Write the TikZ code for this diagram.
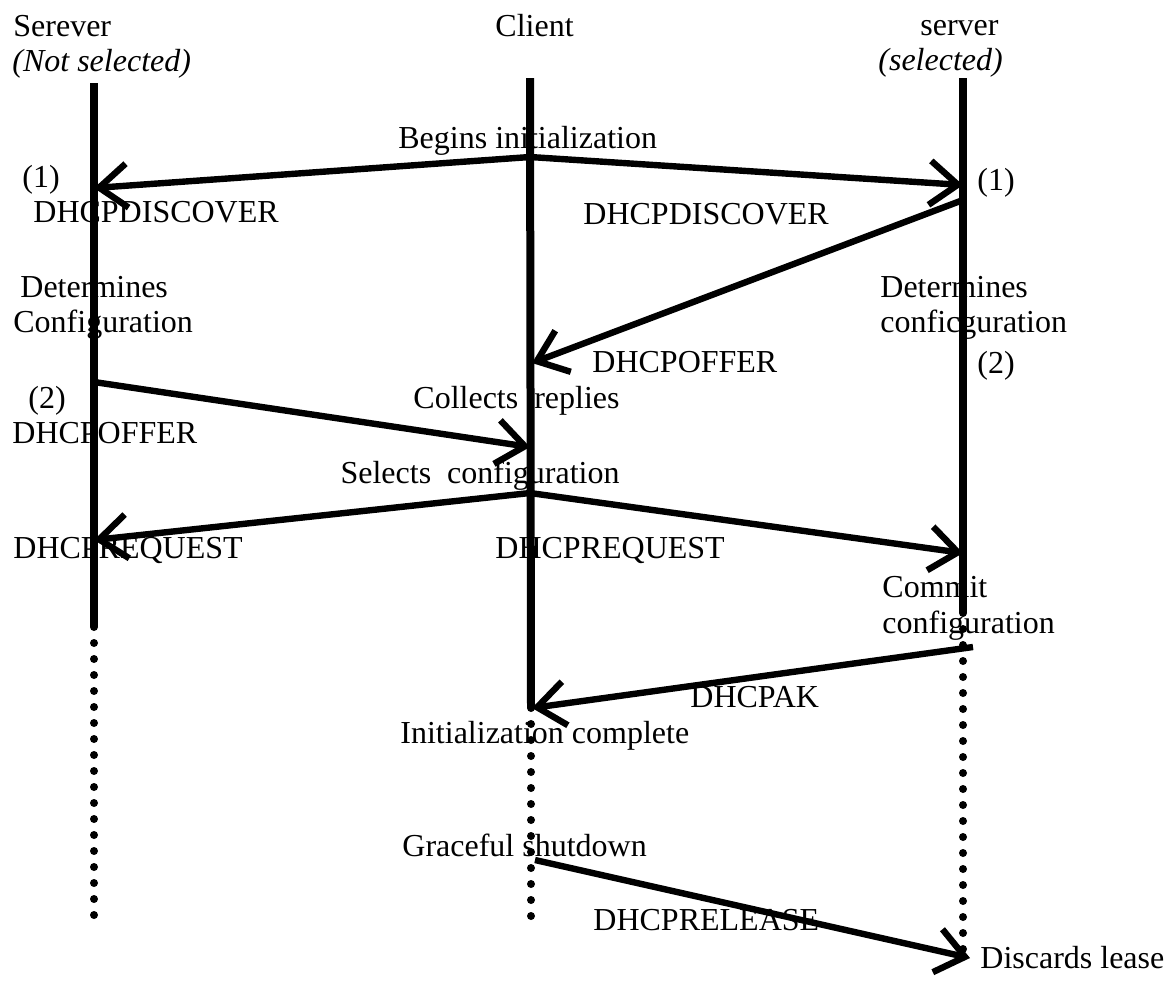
\documentclass[tikz,border=0pt]{standalone}
\usepackage{fontspec}
\setmainfont{Liberation Serif}
\usetikzlibrary{arrows.meta}

\begin{document}
\begin{tikzpicture}[
    x=0.5pt, y=-0.5pt,
    every node/.style={inner sep=0pt, font=\fontsize{16}{19}\selectfont}
]

\tikzset{
  life/.style={line width=4pt},
  idle/.style={line width=4pt, line cap=round, dash pattern=on 0pt off 8pt},
  msg/.style={line width=3.2pt, -{Straight Barb[length=14pt,width=22pt]}},
  txt/.style={anchor=base west}
}

\useasboundingbox (0,0) rectangle (1172,981);

% ================= lifelines =================

\coordinate (sTop) at (94,83);
\coordinate (sEnd) at (94,627);
\coordinate (sDot) at (94,915);

\coordinate (cTop) at (530,78);
\coordinate (cEnd) at (531,708);
\coordinate (cDot) at (531,916);

\coordinate (rTop) at (963,78);
\coordinate (rEnd) at (963,613);
\coordinate (rDot) at (963,963);

\draw[life] (sTop) -- (sEnd);
\draw[idle] (sEnd) -- (sDot);
\draw[life] (cTop) -- (cEnd);
\draw[idle] (cEnd) -- (cDot);
\draw[life] (rTop) -- (rEnd);
\draw[idle] (rEnd) -- (rDot);

\node[txt] (sName) at (13,36) {Serever};
\node[txt] (sNote) at (12,71) {\itshape(Not selected)};
\node[txt] (cName) at (495,36) {Client};
\node[txt] (rName) at (920,35) {server};
\node[txt] (rNote) at (878,70) {\itshape(selected)};

% ================= messages =================

\coordinate (cInit) at (530,157);
\coordinate (sDisc) at (94,188);
\coordinate (rDisc) at (963,185);
\coordinate (rOffer) at (963,200);
\coordinate (cOffer) at (532,363);
\coordinate (sOffer) at (94,382);
\coordinate (cReply) at (530,447);
\coordinate (cSel) at (530,493);
\coordinate (sReq) at (94,540);
\coordinate (rReq) at (963,553);
\coordinate (rAck) at (973,647);
\coordinate (cAck) at (532,708);
\coordinate (cRel) at (535,860);
\coordinate (rRel) at (970,958);

\draw[msg] (cInit) -- (sDisc);
\draw[msg] (cInit) -- (rDisc);
\draw[msg] (rOffer) -- (cOffer);
\draw[msg] (sOffer) -- (cReply);
\draw[msg] (cSel) -- (sReq);
\draw[msg] (cSel) -- (rReq);
\draw[msg] (rAck) -- (cAck);
\draw[msg] (cRel) -- (rRel);

% ================= labels =================

\node[txt] (begin) at (398,148) {Begins initialization};
\node[txt] (s1) at (22,187) {(1)};
\node[txt] (r1) at (977,190) {(1)};
\node[txt] (sDiscL) at (33,222) {DHCPDISCOVER};
\node[txt] (cDiscL) at (583,224) {DHCPDISCOVER};

\node[txt] (sDet) at (20,297) {Determines};
\node[txt] (sConf) at (13,332) {Configuration};
\node[txt] (rDet) at (880,297) {Determines};
\node[txt] (rConf) at (880,332) {conficguration};
\node[txt] (r2) at (977,373) {(2)};
\node[txt] (cOfferL) at (592,372) {DHCPOFFER};

\node[txt] (s2) at (28,408) {(2)};
\node[txt] (sOfferL) at (12,443) {DHCPOFFER};
\node[anchor=base east] (collect) at (620,408) {Collects \ replies};
\node[anchor=base east] (select) at (620,483) {Selects \ configuration};

\node[txt] (sReqL) at (13,558) {DHCPREQUEST};
\node[txt] (cReqL) at (495,558) {DHCPREQUEST};
\node[txt] (commit) at (882,597) {Commit};
\node[txt] (rConf2) at (882,633) {configuration};

\node[txt] (ackL) at (690,707) {DHCPAK};
\node[txt] (done) at (400,743) {Initialization complete};
\node[txt] (shut) at (402,856) {Graceful shutdown};
\node[txt] (relL) at (593,930) {DHCPRELEASE};
\node[txt] (lease) at (980,968) {Discards lease};

\end{tikzpicture}
\end{document}
